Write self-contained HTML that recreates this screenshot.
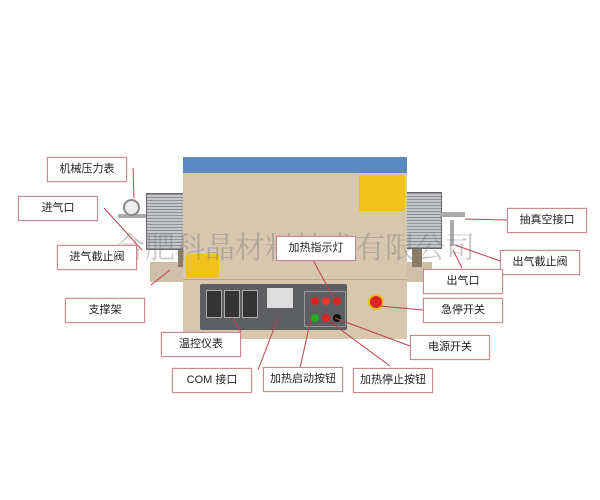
<!DOCTYPE html>
<html><head><meta charset="utf-8"><style>
body{margin:0;width:600px;height:500px;background:#fff;position:relative;overflow:hidden;font-family:"Liberation Sans","Noto Sans CJK SC",sans-serif}
.b{position:absolute;width:78px;height:23px;border:1px solid #d08890;background:#fff;font-size:11px;line-height:23px;text-align:center;color:#222;box-shadow:0 0 1px #c9a0a5}
.a{position:absolute}
</style></head><body>
<!-- furnace -->
<div class="a" style="left:150px;top:262px;width:282px;height:20px;background:#cdbfa8"></div>
<div class="a" style="left:178px;top:245px;width:10px;height:22px;background:#8b7b68"></div>
<div class="a" style="left:412px;top:245px;width:10px;height:22px;background:#8b7b68"></div>
<div class="a" style="left:146px;top:193px;width:38px;height:55px;background:repeating-linear-gradient(0deg,#8f9196 0 1px,#c4c6ca 1px 3px);border:1px solid #666"></div>
<div class="a" style="left:405px;top:192px;width:35px;height:55px;background:repeating-linear-gradient(0deg,#8f9196 0 1px,#c4c6ca 1px 3px);border:1px solid #666"></div>
<div class="a" style="left:118px;top:214px;width:28px;height:4px;background:#aaa"></div>
<div class="a" style="left:123px;top:199px;width:13px;height:13px;border-radius:50%;background:#eee;border:2px solid #888"></div>
<div class="a" style="left:440px;top:212px;width:25px;height:5px;background:#aaa"></div>
<div class="a" style="left:450px;top:220px;width:4px;height:26px;background:#aaa"></div>
<div class="a" style="left:183px;top:157px;width:224px;height:16px;background:#5d89c2"></div>
<div class="a" style="left:183px;top:173px;width:224px;height:166px;background:#d6c7ad"></div>
<div class="a" style="left:359px;top:175px;width:46px;height:36px;background:#f2c21c"></div>
<div class="a" style="left:186px;top:254px;width:33px;height:24px;background:#f2c21c"></div>
<div class="a" style="left:183px;top:279px;width:224px;height:1px;background:#b8a98f"></div>
<div class="a" style="left:200px;top:284px;width:147px;height:46px;background:#5c5e62;border-radius:2px"></div>
<div class="a" style="left:206px;top:290px;width:14px;height:26px;background:#333;border:1px solid #aaa"></div>
<div class="a" style="left:224px;top:290px;width:14px;height:26px;background:#333;border:1px solid #aaa"></div>
<div class="a" style="left:242px;top:290px;width:14px;height:26px;background:#333;border:1px solid #aaa"></div>
<div class="a" style="left:267px;top:288px;width:26px;height:20px;background:#ddd"></div>
<div class="a" style="left:304px;top:291px;width:40px;height:34px;border:1px solid #999"></div>
<div class="a" style="left:311px;top:297px;width:8px;height:8px;border-radius:50%;background:#d22"></div>
<div class="a" style="left:322px;top:297px;width:8px;height:8px;border-radius:50%;background:#e33"></div>
<div class="a" style="left:333px;top:297px;width:8px;height:8px;border-radius:50%;background:#d22"></div>
<div class="a" style="left:311px;top:314px;width:8px;height:8px;border-radius:50%;background:#2a2"></div>
<div class="a" style="left:322px;top:314px;width:8px;height:8px;border-radius:50%;background:#d22"></div>
<div class="a" style="left:333px;top:314px;width:8px;height:8px;border-radius:50%;background:#111"></div>
<div class="a" style="left:368px;top:294px;width:12px;height:12px;border-radius:50%;background:#d22;border:2px solid #e8c020"></div>
<div class="a" style="left:115px;top:228px;font-size:30px;line-height:34px;color:rgba(120,120,120,.4);white-space:nowrap;font-family:'Noto Serif CJK SC','Noto Sans CJK SC',serif">合肥科晶材料技术有限公司</div>
<svg class="a" style="left:0;top:0" width="600" height="500"><g stroke="#c0404a" stroke-width="1" fill="none">
<line x1="133" y1="168" x2="134" y2="198"/>
<line x1="104" y1="208" x2="142" y2="250"/>
<line x1="151" y1="285" x2="170" y2="270"/>
<line x1="241" y1="332" x2="232" y2="318"/>
<line x1="258" y1="370" x2="278" y2="318"/>
<line x1="300" y1="368" x2="311" y2="318"/>
<line x1="390" y1="366" x2="325" y2="318"/>
<line x1="410" y1="346" x2="335" y2="318"/>
<line x1="313" y1="260" x2="333" y2="297"/>
<line x1="508" y1="220" x2="465" y2="219"/>
<line x1="503" y1="262" x2="455" y2="245"/>
<line x1="462" y1="268" x2="453" y2="250"/>
<line x1="423" y1="310" x2="380" y2="306"/>
</g></svg>
<div class="b" style="left:47px;top:157px">机械压力表</div>
<div class="b" style="left:18px;top:196px">进气口</div>
<div class="b" style="left:57px;top:245px">进气截止阀</div>
<div class="b" style="left:65px;top:298px">支撑架</div>
<div class="b" style="left:161px;top:332px">温控仪表</div>
<div class="b" style="left:172px;top:368px">COM 接口</div>
<div class="b" style="left:263px;top:367px">加热启动按钮</div>
<div class="b" style="left:353px;top:368px">加热停止按钮</div>
<div class="b" style="left:276px;top:236px">加热指示灯</div>
<div class="b" style="left:507px;top:208px">抽真空接口</div>
<div class="b" style="left:500px;top:250px">出气截止阀</div>
<div class="b" style="left:423px;top:269px">出气口</div>
<div class="b" style="left:423px;top:298px">急停开关</div>
<div class="b" style="left:410px;top:335px">电源开关</div>
</body></html>
